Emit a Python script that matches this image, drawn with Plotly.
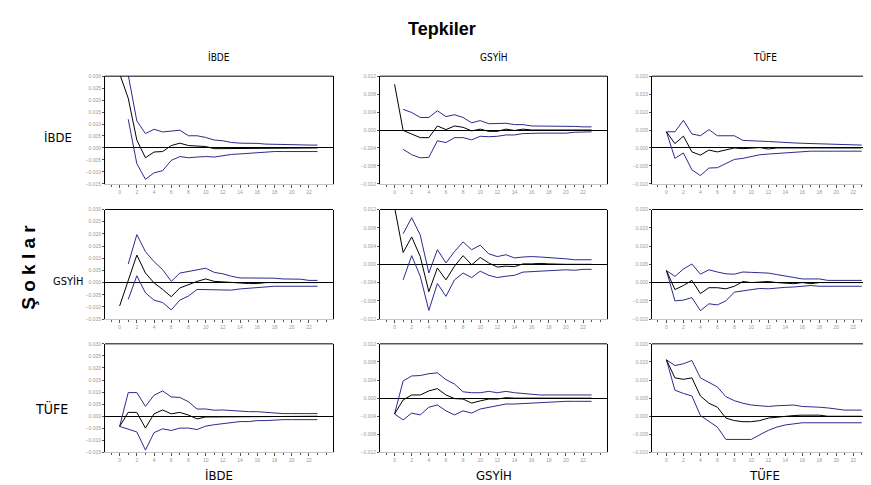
import plotly.graph_objects as go

# ---------------- data ----------------
periods = list(range(24))
variables = ["İBDE", "GSYİH", "TÜFE"]
x_tick_vals = list(range(0, 23, 2))
y_ticks_ibde = [-0.015, -0.010, -0.005, 0.000, 0.005, 0.010, 0.015, 0.020, 0.025, 0.030]
y_ticks_gsyih = [-0.012, -0.008, -0.004, 0.000, 0.004, 0.008, 0.012]
y_ticks_tufe = [-0.010, -0.005, 0.000, 0.005, 0.010, 0.015, 0.020]

# shock İBDE
ibde_ibde_mid = [0.031, 0.0208, 0.0033, -0.0041, -0.0017, -0.0015, 0.0010, 0.0020, 0.0010, 0.0007, 0.0006, -0.0003, -0.0003, 0.0, 0, 0, 0, 0, 0, 0, 0, 0, 0, 0]
ibde_ibde_up = [None, 0.0305, 0.0113, 0.0060, 0.0078, 0.0067, 0.0072, 0.0074, 0.0051, 0.0051, 0.0044, 0.0033, 0.0030, 0.0023, 0.0020, 0.0020, 0.0019, 0.0016, 0.0016, 0.0015, 0.0014, 0.0013, 0.0012, 0.0012]
ibde_ibde_lo = [None, 0.0120, -0.0066, -0.0131, -0.0104, -0.0095, -0.0052, -0.0036, -0.0041, -0.0038, -0.0036, -0.0038, -0.0031, -0.0027, -0.0025, -0.0022, -0.0018, -0.0017, -0.0015, -0.0015, -0.0015, -0.0015, -0.0015, -0.0015]

ibde_gsyih_mid = [0.0102, -0.0001, -0.0009, -0.0017, -0.0017, 0.0009, 0.0001, 0.0009, 0.0006, -0.0002, 0.0002, -0.0003, -0.0003, 0.0002, -0.0001, 0.0002, 0, 0, 0, 0, 0, 0, 0, 0]
ibde_gsyih_up = [None, 0.0046, 0.0039, 0.0028, 0.0028, 0.0043, 0.0030, 0.0034, 0.0028, 0.0016, 0.0021, 0.0014, 0.0014, 0.0015, 0.0012, 0.0012, 0.0009, 0.0009, 0.0009, 0.0009, 0.0009, 0.0008, 0.0007, 0.0007]
ibde_gsyih_lo = [None, -0.0043, -0.0055, -0.0062, -0.0061, -0.0024, -0.0028, -0.0017, -0.0017, -0.0022, -0.0014, -0.0015, -0.0014, -0.0011, -0.0011, -0.0008, -0.0007, -0.0007, -0.0007, -0.0007, -0.0007, -0.0005, -0.0004, -0.0004]

ibde_tufe_mid = [0.0045, 0.0012, 0.0033, -0.0011, -0.0020, -0.0006, -0.0011, -0.0006, 0.0000, -0.0002, 0.0000, 0.0001, -0.0003, 0, 0, 0, 0, 0, 0, 0, 0, 0, 0, 0]
ibde_tufe_up = [0.0045, 0.0045, 0.0077, 0.0039, 0.0034, 0.0051, 0.0034, 0.0034, 0.0034, 0.0021, 0.0021, 0.0019, 0.0018, 0.0016, 0.0014, 0.0014, 0.0013, 0.0012, 0.0012, 0.0010, 0.0009, 0.0009, 0.0009, 0.0008]
ibde_tufe_lo = [0.0045, -0.0029, -0.0014, -0.0061, -0.0077, -0.0056, -0.0055, -0.0044, -0.0032, -0.0029, -0.0023, -0.0019, -0.0017, -0.0015, -0.0014, -0.0011, -0.0009, -0.0009, -0.0009, -0.0009, -0.0009, -0.0009, -0.0009, -0.0009]

# shock GSYİH
gsyih_ibde_mid = [-0.0096, 0.0009, 0.0113, 0.0039, -0.0001, -0.0028, -0.0058, -0.0022, -0.0008, 0.0005, 0.0015, 0.0005, 0.0003, 0.0000, -0.0004, -0.0004, -0.0004, 0.0000, 0, 0, 0, 0, 0, 0]
gsyih_ibde_up = [None, 0.0076, 0.0197, 0.0127, 0.0086, 0.0053, 0.0005, 0.0039, 0.0046, 0.0055, 0.0059, 0.0042, 0.0036, 0.0026, 0.0019, 0.0019, 0.0019, 0.0019, 0.0018, 0.0015, 0.0015, 0.0014, 0.0009, 0.0009]
gsyih_ibde_lo = [None, -0.0069, 0.0028, -0.0042, -0.0072, -0.0082, -0.0112, -0.0072, -0.0055, -0.0028, -0.0028, -0.0028, -0.0028, -0.0031, -0.0026, -0.0023, -0.0020, -0.0018, -0.0015, -0.0015, -0.0015, -0.0018, -0.0015, -0.0015]

gsyih_gsyih_mid = [0.0125, 0.0026, 0.0060, 0.0017, -0.0060, -0.0008, -0.0034, -0.0004, 0.0019, -0.0001, 0.0015, 0.0003, -0.0006, -0.0004, -0.0005, 0.0001, 0.0001, 0.0002, 0.0001, 0, 0, 0, 0, 0]
gsyih_gsyih_up = [None, 0.0067, 0.0102, 0.0064, -0.0019, 0.0032, 0.0003, 0.0028, 0.0049, 0.0032, 0.0042, 0.0023, 0.0017, 0.0021, 0.0014, 0.0016, 0.0017, 0.0016, 0.0015, 0.0013, 0.0012, 0.0010, 0.0010, 0.0010]
gsyih_gsyih_lo = [None, -0.0034, 0.0019, -0.0026, -0.0101, -0.0042, -0.0070, -0.0034, -0.0019, -0.0029, -0.0015, -0.0024, -0.0029, -0.0026, -0.0024, -0.0017, -0.0016, -0.0016, -0.0015, -0.0013, -0.0012, -0.0013, -0.0011, -0.0011]

gsyih_tufe_mid = [0.0033, -0.0019, -0.0008, 0.0006, -0.0030, -0.0014, -0.0014, -0.0017, -0.0010, 0.0003, 0.0000, 0.0001, 0.0003, 0.0000, -0.0002, -0.0003, 0.0000, -0.0003, 0, 0, 0, 0, 0, 0]
gsyih_tufe_up = [0.0033, 0.0017, 0.0037, 0.0051, 0.0023, 0.0035, 0.0029, 0.0024, 0.0023, 0.0029, 0.0028, 0.0028, 0.0026, 0.0022, 0.0017, 0.0014, 0.0010, 0.0010, 0.0010, 0.0006, 0.0006, 0.0006, 0.0006, 0.0006]
gsyih_tufe_lo = [0.0033, -0.0050, -0.0048, -0.0041, -0.0077, -0.0058, -0.0061, -0.0050, -0.0026, -0.0023, -0.0019, -0.0016, -0.0017, -0.0014, -0.0013, -0.0012, -0.0010, -0.0008, -0.0010, -0.0010, -0.0010, -0.0010, -0.0010, -0.0010]

# shock TÜFE
tufe_ibde_mid = [-0.0042, 0.0016, 0.0016, -0.0049, 0.0010, 0.0026, 0.0010, 0.0016, 0.0005, -0.0011, -0.0003, -0.0003, -0.0003, 0, 0, 0, 0, 0, 0, 0, 0, 0, 0, 0]
tufe_ibde_up = [-0.0042, 0.0098, 0.0098, 0.0041, 0.0087, 0.0105, 0.0080, 0.0078, 0.0060, 0.0030, 0.0030, 0.0025, 0.0026, 0.0023, 0.0021, 0.0019, 0.0019, 0.0016, 0.0011, 0.0011, 0.0011, 0.0011, 0.0011, 0.0011]
tufe_ibde_lo = [-0.0042, -0.0055, -0.0065, -0.0140, -0.0068, -0.0052, -0.0059, -0.0049, -0.0049, -0.0055, -0.0041, -0.0035, -0.0031, -0.0025, -0.0022, -0.0022, -0.0018, -0.0018, -0.0015, -0.0014, -0.0014, -0.0014, -0.0014, -0.0014]

tufe_gsyih_mid = [-0.0035, -0.0004, 0.0007, 0.0007, 0.0016, 0.0021, 0.0007, -0.0001, -0.0002, -0.0011, -0.0006, -0.0002, -0.0002, 0.0001, 0, 0, 0, 0, 0, 0, 0, 0, 0, 0]
tufe_gsyih_up = [-0.0035, 0.0038, 0.0049, 0.0050, 0.0054, 0.0056, 0.0041, 0.0031, 0.0014, 0.0012, 0.0012, 0.0015, 0.0012, 0.0015, 0.0012, 0.0010, 0.0009, 0.0007, 0.0007, 0.0007, 0.0007, 0.0007, 0.0007, 0.0007]
tufe_gsyih_lo = [-0.0035, -0.0048, -0.0033, -0.0037, -0.0020, -0.0015, -0.0028, -0.0037, -0.0028, -0.0033, -0.0024, -0.0020, -0.0017, -0.0013, -0.0013, -0.0012, -0.0011, -0.0009, -0.0008, -0.0007, -0.0007, -0.0007, -0.0007, -0.0007]

tufe_tufe_mid = [0.0156, 0.0106, 0.0102, 0.0106, 0.0056, 0.0036, 0.0025, -0.0005, -0.0012, -0.0015, -0.0015, -0.0012, -0.0005, -0.0002, -0.0001, 0.0002, 0.0003, 0.0003, 0.0003, 0.0000, 0, 0, 0, 0]
tufe_tufe_up = [0.0156, 0.0140, 0.0145, 0.0154, 0.0106, 0.0093, 0.0081, 0.0054, 0.0043, 0.0036, 0.0031, 0.0029, 0.0027, 0.0029, 0.0031, 0.0031, 0.0027, 0.0027, 0.0025, 0.0023, 0.0020, 0.0017, 0.0017, 0.0017]
tufe_tufe_lo = [0.0156, 0.0072, 0.0063, 0.0056, 0.0002, -0.0015, -0.0030, -0.0064, -0.0064, -0.0064, -0.0064, -0.0051, -0.0039, -0.0030, -0.0024, -0.0021, -0.0018, -0.0018, -0.0018, -0.0018, -0.0018, -0.0018, -0.0018, -0.0018]

panels = [
    [(ibde_ibde_mid, ibde_ibde_up, ibde_ibde_lo), (ibde_gsyih_mid, ibde_gsyih_up, ibde_gsyih_lo), (ibde_tufe_mid, ibde_tufe_up, ibde_tufe_lo)],
    [(gsyih_ibde_mid, gsyih_ibde_up, gsyih_ibde_lo), (gsyih_gsyih_mid, gsyih_gsyih_up, gsyih_gsyih_lo), (gsyih_tufe_mid, gsyih_tufe_up, gsyih_tufe_lo)],
    [(tufe_ibde_mid, tufe_ibde_up, tufe_ibde_lo), (tufe_gsyih_mid, tufe_gsyih_up, tufe_gsyih_lo), (tufe_tufe_mid, tufe_tufe_up, tufe_tufe_lo)],
]
col_y_ticks = [y_ticks_ibde, y_ticks_gsyih, y_ticks_tufe]

# ---------------- layout ----------------
W, H = 871, 485
col_px = [(97, 325), (372, 599), (644, 869)]
row_px = [(66, 175), (201, 312), (337, 447)]

NARROW = "DejaVu Sans Condensed, Liberation Sans Narrow, sans-serif"
SANS = "Liberation Sans, Arial, sans-serif"
BAND = "#2b2b8e"

fig = go.Figure()
layout = dict(
    width=W, height=H, margin=dict(l=0, r=0, t=0, b=0),
    paper_bgcolor="white", plot_bgcolor="white", showlegend=False,
)
shapes = []

n = 0
for r in range(3):
    for c in range(3):
        n += 1
        xa = "x" if n == 1 else f"x{n}"
        ya = "y" if n == 1 else f"y{n}"
        mid, up, lo = panels[r][c]
        for series, color in ((up, BAND), (lo, BAND), (mid, "black")):
            fig.add_trace(go.Scatter(
                x=periods, y=series, mode="lines", xaxis=xa, yaxis=ya,
                line=dict(color=color, width=1), connectgaps=False, hoverinfo="skip",
            ))
        yt = col_y_ticks[c]
        x0, x1 = col_px[c]
        y0, y1 = row_px[r]
        xkey = "xaxis" if n == 1 else f"xaxis{n}"
        ykey = "yaxis" if n == 1 else f"yaxis{n}"
        layout[xkey] = dict(
            domain=[x0 / W, x1 / W], anchor=ya, range=[-1.7, 24.8],
            tickvals=x_tick_vals, ticks="outside", ticklen=3, tickcolor="#555",
            minor=dict(dtick=1, tick0=0, ticks="outside", ticklen=2, tickcolor="#555"),
            showgrid=False, zeroline=False, showline=True, linecolor="#c4c4c4",
            linewidth=1, mirror=False,
            tickfont=dict(size=5, color="#999999", family=SANS),
        )
        layout[ykey] = dict(
            domain=[1 - y1 / H, 1 - y0 / H], anchor=xa, range=[yt[0], yt[-1]],
            tickvals=yt, tickformat=".3f", ticks="outside", ticklen=2, tickcolor="#555",
            showgrid=False, zeroline=True, zerolinecolor="black", zerolinewidth=1,
            showline=True, linecolor="black", linewidth=1, mirror=True,
            tickfont=dict(size=5, color="#999999", family=SANS),
        )
        # top frame edge
        shapes.append(dict(
            type="line", xref=f"{xa} domain", yref=f"{ya} domain",
            x0=0, x1=1, y0=1, y1=1, line=dict(color="black", width=1),
        ))

layout["shapes"] = shapes
fig.update_layout(**layout)

def ann(text, px, py, size, bold=False, angle=0, family=NARROW):
    fig.add_annotation(
        text=f"<b>{text}</b>" if bold else text, x=px / W, y=1 - py / H,
        xref="paper", yref="paper", showarrow=False, textangle=angle,
        font=dict(size=size, color="black", family=family),
        xanchor="center", yanchor="middle",
    )

ann("Tepkiler", 434, 18, 18, bold=True, family=SANS)
for c, name in enumerate(variables):
    cx = (col_px[c][0] + col_px[c][1]) / 2
    ann(name, cx, 47, 10)
    ann(name, cx, 470, 13)
ann(variables[0], 50, 128, 13)
ann(variables[1], 60, 274, 11)
ann(variables[2], 43, 402, 14)
ann("Ş o k l a r", 21, 260, 19, bold=True, angle=-90, family=SANS)

fig.write_html("out.html")
